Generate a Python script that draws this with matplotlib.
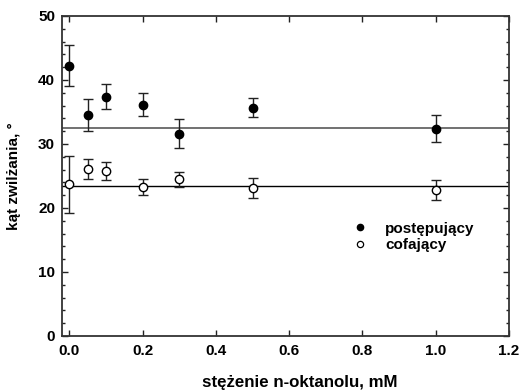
import matplotlib.pyplot as plt
from matplotlib.lines import Line2D
from matplotlib.ticker import MultipleLocator

# stężenie n-oktanolu, mM
conc = [0.0, 0.05, 0.1, 0.2, 0.3, 0.5, 1.0]

# kąt postępujący
adv = [42.2, 34.5, 37.4, 36.1, 31.6, 35.7, 32.4]
adv_err = [3.2, 2.5, 2.0, 1.8, 2.3, 1.5, 2.1]
adv_level = 32.5

# kąt cofający
rec = [23.7, 26.1, 25.8, 23.3, 24.5, 23.1, 22.8]
rec_err = [4.5, 1.5, 1.35, 1.25, 1.2, 1.55, 1.5]
rec_level = 23.4

plt.rcParams['font.family'] = ['Liberation Sans', 'DejaVu Sans']
plt.rcParams['font.weight'] = 'bold'

fig = plt.figure(figsize=(5.22, 3.9), dpi=100)
ax = fig.add_axes([0.1188, 0.1385, 0.8562, 0.8205])

ax.axhline(adv_level, color='#666666', lw=1.3, zorder=1)
ax.axhline(rec_level, color='black', lw=1.0, zorder=1)

ax.errorbar(conc, adv, yerr=adv_err, fmt='o', ms=6, mfc='black', mec='black',
            ecolor='#222222', elinewidth=1.0, capsize=3.3, capthick=1.0, zorder=3)
ax.errorbar(conc, rec, yerr=rec_err, fmt='o', ms=6, mfc='white', mec='black',
            mew=1.0, ecolor='#222222', elinewidth=1.0, capsize=3.3, capthick=1.0,
            zorder=3)

ax.set_xlim(-0.02, 1.2)
ax.set_ylim(0, 50)
ax.xaxis.set_major_locator(MultipleLocator(0.2))
ax.yaxis.set_major_locator(MultipleLocator(10))
ax.yaxis.set_minor_locator(MultipleLocator(2))
ax.xaxis.set_major_formatter(plt.FuncFormatter(lambda v, p: f'{v:.1f}'))

ax.tick_params(which='both', direction='in', top=True, right=True,
               labelsize=11, width=1.0, color='#222222')
ax.tick_params(axis='x', pad=6)
ax.tick_params(axis='y', pad=5)
ax.tick_params(which='major', length=4)
ax.tick_params(which='minor', length=2.5)
for s in ax.spines.values():
    s.set_linewidth(1.3)
    s.set_color('#333333')

ax.set_xlabel('stężenie n-oktanolu, mM', fontsize=12.2, fontweight='bold',
              labelpad=12, x=0.533)
ax.set_ylabel('kąt zwilżania, °', fontsize=11, fontweight='bold', labelpad=12)

handles = [
    Line2D([], [], ls='none', marker='o', ms=4.5, mfc='black', mec='black'),
    Line2D([], [], ls='none', marker='o', ms=4.5, mfc='white', mec='black', mew=0.9),
]
ax.legend(handles, ['postępujący', 'cofający'], loc='upper left',
          bbox_to_anchor=(0.640, 0.357), frameon=False, fontsize=11,
          handletextpad=0.83, handlelength=1.6, borderpad=0, borderaxespad=0,
          labelspacing=0.18)

fig.savefig('out.png', dpi=100)
